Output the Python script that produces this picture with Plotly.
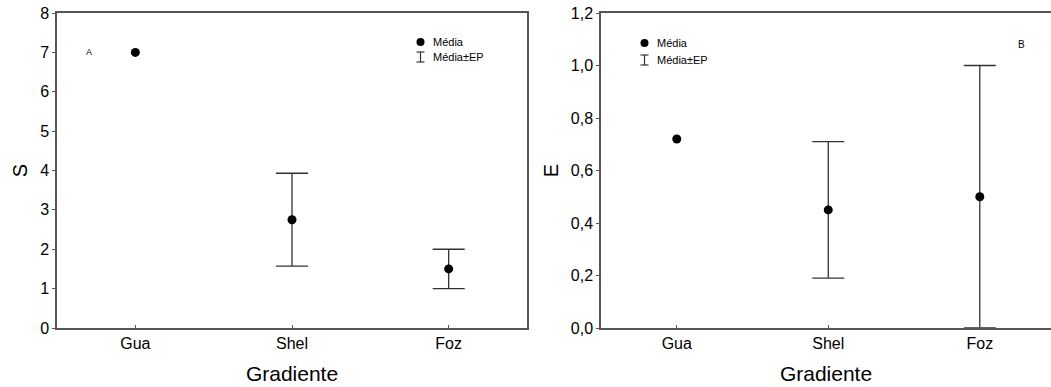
import plotly.graph_objects as go

# Gradient sites
categorias = ["Gua", "Shel", "Foz"]

# Panel A: species richness (S), mean and standard error (no SE for Gua)
s_media = [7.0, 2.75, 1.5]
s_ep = [None, 1.18, 0.5]

# Panel B: evenness (E), mean and standard error (no SE for Gua)
e_media = [0.72, 0.45, 0.5]
e_ep = [None, 0.26, 0.5]

W, H = 1051, 387
TOP, BOTTOM = 13, 328          # plot area in px
FONT = "Liberation Sans, Arial, sans-serif"
LINE = "#555555"
BAR = "#333333"


def px(x):
    return x / W


def py(y):
    return (BOTTOM - y) / (BOTTOM - TOP)


fig = go.Figure()

for media, ep, xa, ya in [(s_media, s_ep, "x", "y"), (e_media, e_ep, "x2", "y2")]:
    # points with a standard error get error bars, the rest are plain markers
    with_ep = [i for i, e in enumerate(ep) if e is not None]
    without_ep = [i for i, e in enumerate(ep) if e is None]
    fig.add_trace(go.Scatter(
        x=[categorias[i] for i in with_ep], y=[media[i] for i in with_ep],
        mode="markers", marker=dict(color="black", size=9),
        error_y=dict(type="data", array=[ep[i] for i in with_ep], visible=True,
                     color=BAR, thickness=1.3, width=16),
        xaxis=xa, yaxis=ya, showlegend=False, cliponaxis=False,
    ))
    fig.add_trace(go.Scatter(
        x=[categorias[i] for i in without_ep], y=[media[i] for i in without_ep],
        mode="markers", marker=dict(color="black", size=9),
        xaxis=xa, yaxis=ya, showlegend=False, cliponaxis=False,
    ))

axis_common = dict(showgrid=False, zeroline=False, showline=True,
                   linecolor=LINE, linewidth=1.5, automargin=False,
                   tickfont=dict(family=FONT, size=16, color="black"),
                   ticks="outside", ticklen=3, tickcolor=LINE)

xtitle = dict(text="Gradiente", font=dict(family=FONT, size=21), standoff=15)

fig.update_layout(
    width=W, height=H,
    margin=dict(l=0, r=0, t=TOP, b=H - BOTTOM),
    paper_bgcolor="white", plot_bgcolor="white",
    separators=",.",
    font=dict(family=FONT, color="black"),
    xaxis=dict(axis_common, domain=[px(57), px(527)], anchor="y",
               type="category", categoryorder="array", categoryarray=categorias,
               range=[-0.5, 2.5], mirror=True,
               ticks="inside", ticklen=3, title=xtitle),
    yaxis=dict(axis_common, domain=[0, 1], anchor="x", range=[0, 8],
               dtick=1, tick0=0, mirror=True,
               title=dict(text="S", font=dict(family=FONT, size=20), standoff=7)),
    xaxis2=dict(axis_common, domain=[px(601), 1], anchor="y2",
                type="category", categoryorder="array", categoryarray=categorias,
                range=[-0.5, 2.47], mirror=True,
                ticks="inside", ticklen=3, title=xtitle),
    yaxis2=dict(axis_common, domain=[0, 1], anchor="x2", range=[0, 1.2],
                dtick=0.2, tick0=0, tickformat=".1f", mirror=False,
                title=dict(text="E", font=dict(family=FONT, size=20), standoff=7)),
)

# Legend boxes and panel letters
shapes = []
annotations = []
for (dx, dy1, dy2) in [(420.5, 42, 57), (644.5, 43, 60)]:
    shapes.append(dict(type="circle", xref="paper", yref="paper",
                       xsizemode="pixel", ysizemode="pixel",
                       xanchor=px(dx), yanchor=py(dy1),
                       x0=-4, x1=4, y0=-4, y1=4,
                       fillcolor="black", line=dict(color="black", width=0)))
    for (x0, y0, x1, y1) in [(0, -5, 0, 5), (-4, 5, 4, 5), (-4, -5, 4, -5)]:
        shapes.append(dict(type="line", xref="paper", yref="paper",
                           xsizemode="pixel", ysizemode="pixel",
                           xanchor=px(dx), yanchor=py(dy2),
                           x0=x0, x1=x1, y0=y0, y1=y1,
                           line=dict(color=BAR, width=1.2)))
    for txt, yy in [("Média", dy1), ("Média±EP", dy2)]:
        annotations.append(dict(text=txt, xref="paper", yref="paper",
                                x=px(dx + 10), y=py(yy), xanchor="left",
                                yanchor="middle", showarrow=False,
                                font=dict(family=FONT, size=11, color="black")))

annotations.append(dict(text="A", xref="paper", yref="paper", x=px(89), y=py(52),
                        xanchor="center", yanchor="middle", showarrow=False,
                        font=dict(family=FONT, size=9, color="black")))
annotations.append(dict(text="B", xref="paper", yref="paper", x=px(1021), y=py(44),
                        xanchor="center", yanchor="middle", showarrow=False,
                        font=dict(family=FONT, size=10, color="black")))

fig.update_layout(shapes=shapes, annotations=annotations)

fig.write_html("out.html")
